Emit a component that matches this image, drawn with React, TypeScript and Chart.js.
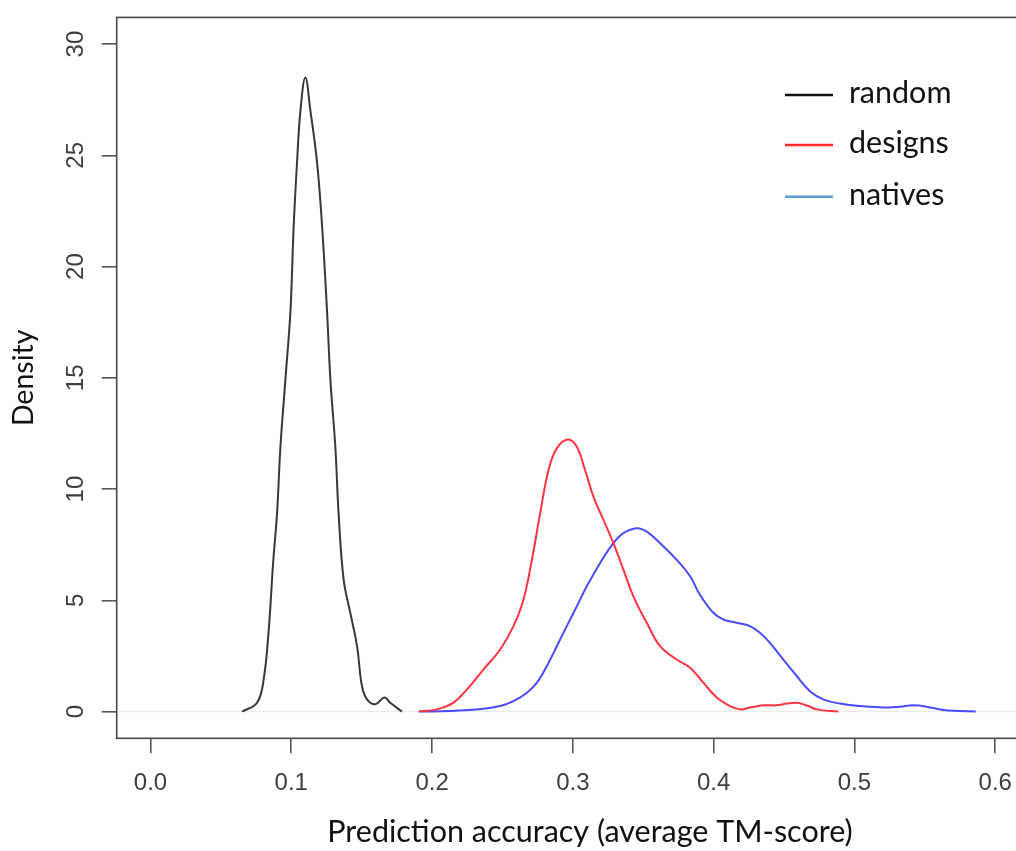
import React, { useEffect, useRef } from "react";
import { Chart, registerables } from "chart.js";

Chart.register(...registerables);

// ---- data ----
const seriesLabels = ["random", "designs", "natives"];

const randomX = [0.0651, 0.0757, 0.0804, 0.084, 0.0871, 0.0899, 0.0923, 0.0958, 0.0994, 0.1017, 0.1041, 0.1065, 0.11, 0.1136, 0.1183, 0.1219, 0.1254, 0.1278, 0.1313, 0.1336, 0.1372, 0.1419, 0.1467, 0.1502, 0.1538, 0.1597, 0.1661, 0.1703, 0.1786];
const randomY = [0, 0.4, 1.45, 3.69, 6.68, 8.92, 11.9, 14.9, 18.0, 21.8, 24.7, 27.0, 28.5, 27.0, 24.7, 21.8, 18.0, 14.9, 11.9, 8.92, 5.93, 4.44, 2.94, 1.15, 0.55, 0.33, 0.63, 0.4, 0];

const designsX = [0.1904, 0.2035, 0.2153, 0.2248, 0.2366, 0.2484, 0.2578, 0.2649, 0.2709, 0.2768, 0.2827, 0.2886, 0.2965, 0.3028, 0.3087, 0.3146, 0.3217, 0.3288, 0.3359, 0.343, 0.3525, 0.362, 0.3738, 0.3833, 0.3927, 0.4022, 0.4116, 0.4187, 0.4258, 0.4353, 0.4448, 0.4519, 0.459, 0.4661, 0.4732, 0.4885];
const designsY = [0, 0.1, 0.4, 1.0, 1.9, 2.79, 3.84, 5.03, 6.82, 8.92, 10.85, 11.83, 12.23, 11.9, 10.85, 9.66, 8.62, 7.57, 6.38, 5.18, 3.99, 2.94, 2.34, 1.97, 1.3, 0.63, 0.25, 0.1, 0.18, 0.28, 0.28, 0.36, 0.4, 0.28, 0.1, 0];

const nativesX = [0.1916, 0.2129, 0.2366, 0.2484, 0.2578, 0.2674, 0.2745, 0.2815, 0.2886, 0.2957, 0.3028, 0.3099, 0.3194, 0.3288, 0.3359, 0.3454, 0.3525, 0.362, 0.3738, 0.3833, 0.3903, 0.3998, 0.4069, 0.4164, 0.4258, 0.4329, 0.44, 0.4495, 0.459, 0.4684, 0.4779, 0.4897, 0.5039, 0.5204, 0.5323, 0.5417, 0.5513, 0.563, 0.5749, 0.5862];
const nativesY = [0, 0.03, 0.13, 0.25, 0.47, 0.85, 1.3, 2.04, 2.94, 3.84, 4.73, 5.63, 6.68, 7.57, 8.02, 8.24, 8.09, 7.57, 6.82, 6.08, 5.25, 4.44, 4.14, 3.99, 3.84, 3.54, 3.09, 2.34, 1.6, 0.92, 0.55, 0.36, 0.25, 0.18, 0.22, 0.28, 0.22, 0.07, 0.03, 0];

const xTicks = [0, 0.1, 0.2, 0.3, 0.4, 0.5, 0.6];
const yTicks = [0, 5, 10, 15, 20, 25, 30];

const xTitle = "Prediction accuracy (average TM-score)";
const yTitle = "Density";

const lineColors = ["#383838", "#ff3342", "#4a4aff"];
const legendColors = ["#111111", "#ff2a2a", "#5b9bd5"];

const TICK_FONT = "24px 'Liberation Sans', Arial, sans-serif";
const XTITLE_FONT = "30.5px Lato, 'Open Sans', sans-serif";
const YTITLE_FONT = "28.5px Lato, 'Open Sans', sans-serif";
const LEGEND_FONT = "30.5px Lato, 'Open Sans', sans-serif";

const decorPlugin = {
  id: "decor",
  beforeDatasetsDraw(chart: any) {
    const { ctx, chartArea, scales } = chart;
    const y0 = scales.y.getPixelForValue(0);
    ctx.save();
    ctx.strokeStyle = "#ebebeb";
    ctx.lineWidth = 1.5;
    ctx.beginPath();
    ctx.moveTo(chartArea.left, y0);
    ctx.lineTo(chartArea.right, y0);
    ctx.stroke();
    ctx.restore();
  },
  afterDraw(chart: any) {
    const { ctx, chartArea, scales } = chart;
    ctx.save();
    // box
    ctx.strokeStyle = "#474747";
    ctx.lineWidth = 1.6;
    ctx.strokeRect(chartArea.left, chartArea.top, chartArea.right - chartArea.left, chartArea.bottom - chartArea.top);

    // y tick labels (rotated, R style)
    ctx.fillStyle = "#3d3d3d";
    ctx.font = TICK_FONT;
    ctx.textAlign = "center";
    ctx.textBaseline = "alphabetic";
    scales.y.ticks.forEach((t: any) => {
      const py = scales.y.getPixelForValue(t.value);
      ctx.save();
      ctx.translate(83, py);
      ctx.rotate(-Math.PI / 2);
      ctx.fillText(String(t.value), 0, 0);
      ctx.restore();
    });

    // axis titles
    ctx.fillStyle = "#111111";
    ctx.font = XTITLE_FONT;
    ctx.textAlign = "center";
    ctx.textBaseline = "alphabetic";
    ctx.fillText(xTitle, 590, 841.5);
    ctx.font = YTITLE_FONT;
    ctx.save();
    ctx.translate(33, (chartArea.top + chartArea.bottom) / 2);
    ctx.rotate(-Math.PI / 2);
    ctx.fillText(yTitle, 0, 0);
    ctx.restore();

    // legend
    const rows = [95, 145, 196.7];
    chart.data.datasets.forEach((ds: any, i: number) => {
      const ly = rows[i];
      ctx.strokeStyle = legendColors[i];
      ctx.lineWidth = 2.5;
      ctx.beginPath();
      ctx.moveTo(785, ly);
      ctx.lineTo(833, ly);
      ctx.stroke();
      ctx.fillStyle = "#111111";
      ctx.font = LEGEND_FONT;
      ctx.textAlign = "left";
      ctx.textBaseline = "alphabetic";
      ctx.fillText(ds.label, 849, ly + 8);
    });
    ctx.restore();
  },
};

function toPoints(xs: number[], ys: number[]) {
  return xs.map((x, i) => ({ x, y: ys[i] }));
}

export default function App() {
  const canvasRef = useRef<HTMLCanvasElement | null>(null);

  useEffect(() => {
    if (!canvasRef.current) return;
    const series = [
      toPoints(randomX, randomY),
      toPoints(designsX, designsY),
      toPoints(nativesX, nativesY),
    ];
    const chart = new Chart(canvasRef.current, {
      type: "line",
      data: {
        datasets: series.map((d, i) => ({
          label: seriesLabels[i],
          data: d,
          borderColor: lineColors[i],
          borderWidth: 2,
          pointRadius: 0,
          fill: false,
          tension: 0.4,
        })),
      },
      options: {
        animation: false,
        responsive: true,
        maintainAspectRatio: false,
        devicePixelRatio: 1,
        layout: { padding: { top: 15.7, right: 31, left: 0, bottom: 0 } },
        plugins: { legend: { display: false }, tooltip: { enabled: false } },
        scales: {
          x: {
            type: "linear",
            min: -0.024,
            max: 0.624,
            afterBuildTicks: (s: any) => {
              s.ticks = xTicks.map((v) => ({ value: v }));
            },
            afterFit: (s: any) => {
              s.height = 851 - 738.3;
            },
            border: { display: false },
            grid: { display: true, drawOnChartArea: false, drawTicks: true, tickLength: 15, color: "#555555", lineWidth: 1.6 },
            ticks: {
              autoSkip: false,
              maxRotation: 0,
              minRotation: 0,
              padding: 16,
              color: "#3d3d3d",
              font: { family: "'Liberation Sans', Arial, sans-serif", size: 24 },
              callback: (v: any) => Number(v).toFixed(1),
            },
          },
          y: {
            type: "linear",
            min: -1.2,
            max: 31.2,
            afterBuildTicks: (s: any) => {
              s.ticks = yTicks.map((v) => ({ value: v }));
            },
            afterFit: (s: any) => {
              s.width = 116.7;
            },
            border: { display: false },
            grid: { display: true, drawOnChartArea: false, drawTicks: true, tickLength: 15, color: "#555555", lineWidth: 1.6 },
            ticks: {
              autoSkip: false,
              color: "rgba(0,0,0,0)",
              font: { family: "'Liberation Sans', Arial, sans-serif", size: 24 },
            },
          },
        },
      },
      plugins: [decorPlugin],
    });
    return () => chart.destroy();
  }, []);

  return (
    <div style={{ position: "fixed", left: 0, top: 0, width: 1016, height: 851, overflow: "hidden", background: "#ffffff" }}>
      <div style={{ position: "relative", width: 1060, height: 851 }}>
        <canvas ref={canvasRef} />
      </div>
    </div>
  );
}
